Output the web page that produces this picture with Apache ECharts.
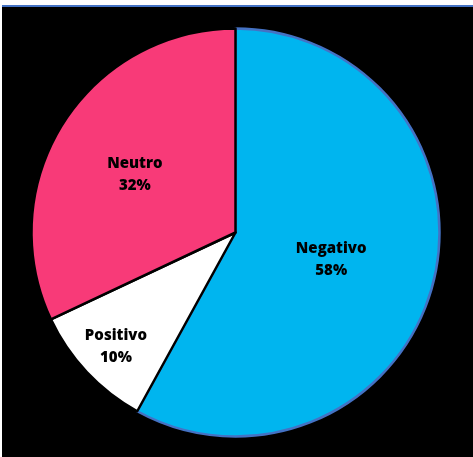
<!DOCTYPE html>
<html>
<head>
<meta charset="utf-8">
<script src="https://cdn.jsdelivr.net/npm/echarts@6/dist/echarts.min.js"></script>
<style>
  html, body { margin: 0; padding: 0; background: #ffffff; width: 473px; height: 457px; overflow: hidden; }
  #topRule { position: absolute; left: 2px; top: 5px; width: 471px; height: 2px; background: #4472C4; }
  #chart { position: absolute; left: 2px; top: 7px; width: 471px; height: 450px; }
</style>
</head>
<body>
<div id="topRule"></div>
<div id="chart"></div>
<script>
// Sentiment shares (percent)
const categories = ['Negativo', 'Positivo', 'Neutro'];
const shares = [58, 10, 32];
const sliceColors = ['#00B5EF', '#FFFFFF', '#F83A78'];

// Per-slice label nudges so the text sits where it reads best
const labelShift = [[-6, 1], [-43, 42], [-12, -2]];

const chart = echarts.init(document.getElementById('chart'), null, { renderer: 'canvas' });

const data = categories.map((name, i) => ({
  name: name,
  value: shares[i],
  itemStyle: {
    color: sliceColors[i],
    borderColor: i === 0 ? '#4472C4' : '#000000',
    borderWidth: 2.5
  }
}));

chart.setOption({
  backgroundColor: '#000000',
  animation: false,
  series: [{
    type: 'pie',
    center: [233.5, 225.5],
    radius: [0, 204],
    startAngle: 90,
    clockwise: true,
    silent: true,
    data: data,
    label: {
      show: true,
      position: 'inside',
      formatter: p => p.name + '\n' + p.value + '%',
      color: '#000000',
      fontFamily: 'Open Sans',
      fontWeight: 800,
      fontSize: 15,
      lineHeight: 22,
      align: 'center'
    },
    labelLine: { show: false },
    labelLayout: function (params) {
      const s = labelShift[params.dataIndex];
      return { dx: s[0], dy: s[1] };
    }
  }]
});
</script>
</body>
</html>
